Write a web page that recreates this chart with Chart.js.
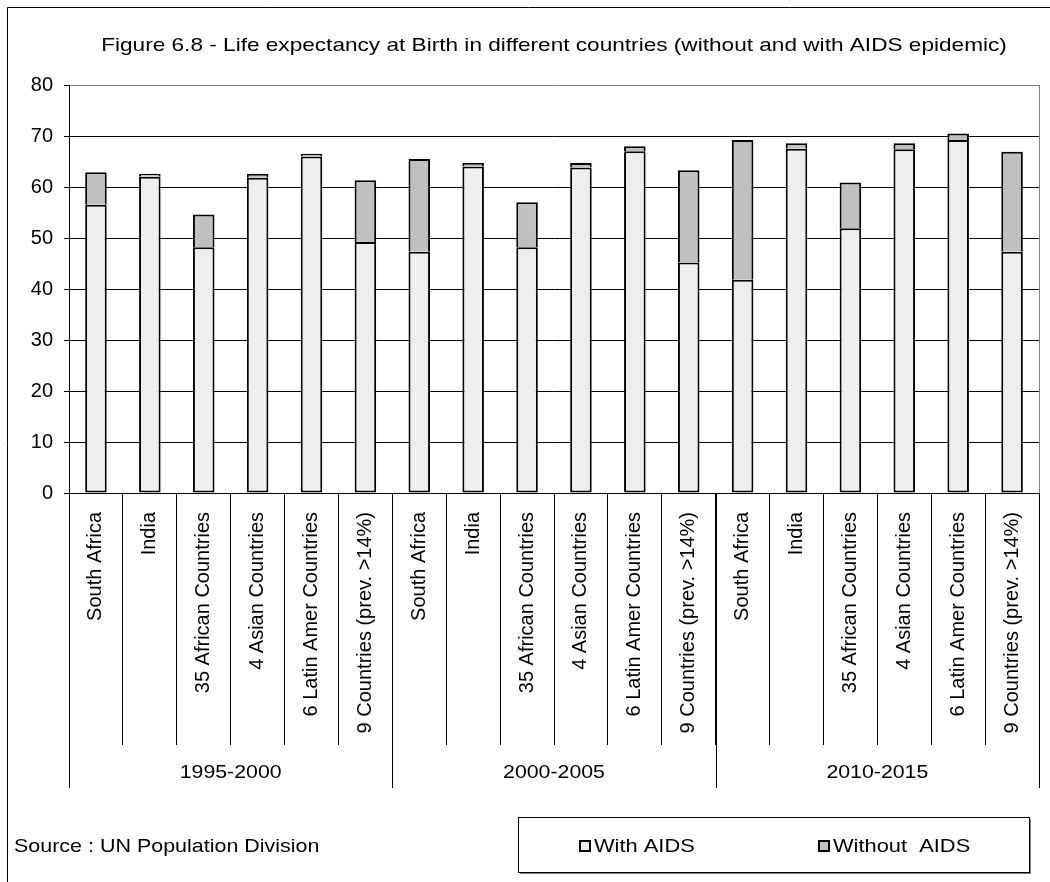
<!DOCTYPE html>
<html>
<head>
<meta charset="utf-8">
<title>Life expectancy at birth</title>
<script src="https://cdn.jsdelivr.net/npm/chart.js@4/dist/chart.umd.min.js"></script>
<style>
  html, body { margin: 0; padding: 0; background: #fff; }
  canvas { display: block; }
</style>
</head>
<body>
<canvas id="chart" width="1050" height="882"></canvas>
<script>
// Periods (outer grouping) and the regions repeated inside each period
const periods = ['1995-2000', '2000-2005', '2010-2015'];
const regions = ['South Africa', 'India', '35 African Countries', '4 Asian Countries',
                 '6 Latin Amer Countries', '9 Countries (prev. >14%)'];

// Life expectancy at birth (years), one value per period x region
const withAids    = [56.5, 62.0, 48.2, 61.8, 66.0, 49.2,
                     47.3, 64.0, 48.2, 63.8, 67.0, 45.2,
                     41.8, 67.5, 51.9, 67.4, 69.2, 47.3];
const withoutAids = [62.9, 62.6, 54.6, 62.6, 66.5, 61.3,
                     65.5, 64.7, 57.0, 64.7, 68.0, 63.3,
                     69.2, 68.6, 60.9, 68.6, 70.5, 66.9];

// Value axis ticks
const yMin = 0, yMax = 80, yStep = 10;

const titleText = 'Figure 6.8 - Life expectancy at Birth in different countries (without and with AIDS epidemic)';
const sourceText = 'Source : UN Population Division';
const seriesNames = ['With AIDS', 'Without  AIDS'];

const FONT = '"Liberation Sans", Arial, Helvetica, sans-serif';
Chart.defaults.font.family = FONT;
Chart.defaults.color = '#000';

const labels = periods.flatMap(() => regions);

// Horizontal text drawn slightly widened, like the original export
function wideText(ctx, text, x, y, sx, align) {
  ctx.save();
  ctx.translate(x, y);
  ctx.scale(sx, 1);
  ctx.textAlign = align;
  ctx.textBaseline = 'middle';
  ctx.fillText(text, 0, 0);
  ctx.restore();
}

// Title, period labels, separators, legend and source note
const decor = {
  id: 'decor',
  afterDraw(chart) {
    const { ctx, chartArea: a, scales: { x } } = chart;
    const outerBottom = 788;
    ctx.save();

    // figure frame (left and top)
    ctx.strokeStyle = '#000';
    ctx.lineWidth = 1;
    ctx.beginPath();
    ctx.moveTo(7.5, chart.height);
    ctx.lineTo(7.5, 7.5);
    ctx.lineTo(chart.width, 7.5);
    ctx.stroke();

    // plot area right edge
    ctx.strokeStyle = '#808080';
    ctx.beginPath();
    ctx.moveTo(Math.round(a.right) + 0.5, a.top);
    ctx.lineTo(Math.round(a.right) + 0.5, a.bottom);
    ctx.stroke();

    // title
    ctx.fillStyle = '#000';
    ctx.font = '19px ' + FONT;
    wideText(ctx, titleText, 554, 46, 1.19, 'center');

    // period boundaries and period labels
    const n = regions.length;
    const bounds = [];
    for (let g = 0; g <= periods.length; g++) {
      let px;
      if (g === 0) px = x.left;
      else if (g === periods.length) px = x.right;
      else px = (x.getPixelForValue(g * n - 1) + x.getPixelForValue(g * n)) / 2;
      bounds.push(px);
    }
    ctx.strokeStyle = '#000';
    bounds.forEach(px => {
      ctx.beginPath();
      ctx.moveTo(Math.round(px) + 0.5, a.bottom);
      ctx.lineTo(Math.round(px) + 0.5, outerBottom);
      ctx.stroke();
    });
    ctx.font = '19px ' + FONT;
    periods.forEach((p, g) => {
      wideText(ctx, p, (bounds[g] + bounds[g + 1]) / 2, 773, 1.12, 'center');
    });

    // source note
    wideText(ctx, sourceText, 14, 847, 1.13, 'left');

    // legend box with shadow
    const bx = 518, by = 817, bw = 511, bh = 55;
    ctx.strokeStyle = '#808080';
    ctx.lineWidth = 2;
    ctx.beginPath();
    ctx.moveTo(bx + 2, by + bh + 1);
    ctx.lineTo(bx + bw + 1, by + bh + 1);
    ctx.lineTo(bx + bw + 1, by + 2);
    ctx.stroke();
    ctx.strokeStyle = '#000';
    ctx.lineWidth = 1;
    ctx.strokeRect(bx + 0.5, by + 0.5, bw, bh);

    const itemX = [579, 818];
    chart.data.datasets.forEach((ds, i) => {
      const sx = itemX[i], sy = 840;
      ctx.fillStyle = ds.backgroundColor;
      ctx.fillRect(sx, sy, 12, 12);
      ctx.lineWidth = 2;
      ctx.strokeStyle = '#000';
      ctx.strokeRect(sx + 1, sy + 1, 10, 10);
      ctx.fillStyle = '#000';
      wideText(ctx, ds.label, sx + 15, 847, 1.15, 'left');
    });

    ctx.restore();
  }
};

new Chart(document.getElementById('chart'), {
  type: 'bar',
  data: {
    labels,
    datasets: [
      {
        label: seriesNames[0],
        data: withAids,
        backgroundColor: '#eeeeee',
        borderColor: '#000',
        borderWidth: 2,
        borderSkipped: false,
        grouped: false,
        order: 2
      },
      {
        label: seriesNames[1],
        data: withAids.map((w, i) => [w, withoutAids[i]]),
        backgroundColor: '#c0c0c0',
        borderColor: '#000',
        borderWidth: { top: 2, right: 2, bottom: 0, left: 2 },
        borderSkipped: false,
        grouped: false,
        order: 1
      }
    ]
  },
  options: {
    responsive: false,
    devicePixelRatio: 1,
    animation: false,
    events: [],
    layout: { padding: { top: 85, right: 11, bottom: 94, left: 10 } },
    datasets: { bar: { barPercentage: 0.4, categoryPercentage: 1 } },
    plugins: {
      legend: { display: false },
      title: { display: false },
      tooltip: { enabled: false }
    },
    scales: {
      x: {
        offset: true,
        grid: {
          offset: true,
          drawOnChartArea: false,
          drawTicks: true,
          tickLength: 252,
          color: '#000',
          lineWidth: 1
        },
        border: { color: '#000', width: 1 },
        ticks: {
          autoSkip: false,
          minRotation: 90,
          maxRotation: 90,
          padding: -233,
          color: '#000',
          font: { size: 20 }
        },
        afterFit(scale) { scale.height = 295; }
      },
      y: {
        min: yMin,
        max: yMax,
        ticks: {
          stepSize: yStep,
          padding: 11,
          color: '#000',
          font: { size: 20 }
        },
        grid: {
          color: c => (c.tick && c.tick.value === yMax ? '#808080' : '#000'),
          tickColor: '#000',
          tickLength: 5,
          lineWidth: 1
        },
        border: { color: '#000', width: 1 },
        afterFit(scale) { scale.width = 59; }
      }
    }
  },
  plugins: [decor]
});
</script>
</body>
</html>
